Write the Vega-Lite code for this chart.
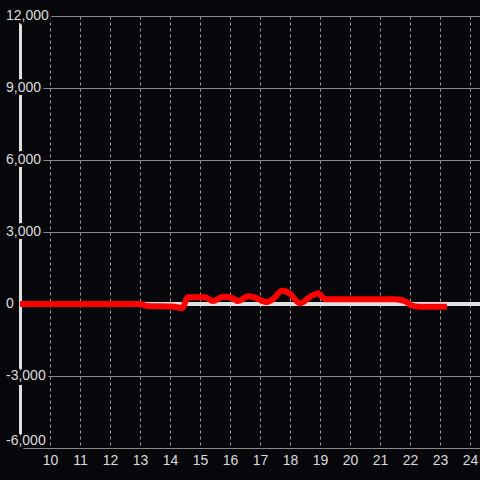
{
  "$schema": "https://vega.github.io/schema/vega-lite/v6.json",
  "width": 460,
  "height": 432,
  "autosize": {"type": "none"},
  "padding": {"left": 20, "top": 16, "right": 0, "bottom": 32},
  "background": "#07060a",
  "config": {
    "view": {"stroke": null},
    "axisX": {
      "title": null,
      "labelFont": "Liberation Sans", "labelFontSize": 14, "labelColor": "#dcdcdc",
      "domain": false, "ticks": false, "labelPadding": 5,
      "grid": true, "gridColor": "#9a9a9a", "gridDash": [3, 3], "gridWidth": 1,
      "labelFlush": false, "labelOverlap": false
    }
  },
  "datasets": {
    "series": [
      {"hour": 9.0, "value": 0},
      {"hour": 13.0, "value": 0},
      {"hour": 13.23, "value": -80},
      {"hour": 14.07, "value": -100},
      {"hour": 14.4, "value": -170},
      {"hour": 14.6, "value": 280},
      {"hour": 15.17, "value": 280},
      {"hour": 15.43, "value": 120},
      {"hour": 15.77, "value": 300},
      {"hour": 16.07, "value": 250},
      {"hour": 16.27, "value": 120},
      {"hour": 16.6, "value": 320},
      {"hour": 16.83, "value": 270},
      {"hour": 17.2, "value": 80},
      {"hour": 17.43, "value": 200},
      {"hour": 17.73, "value": 550},
      {"hour": 18.0, "value": 430},
      {"hour": 18.33, "value": 30},
      {"hour": 18.67, "value": 300},
      {"hour": 18.93, "value": 450},
      {"hour": 19.17, "value": 200},
      {"hour": 21.5, "value": 200},
      {"hour": 21.83, "value": 120},
      {"hour": 22.07, "value": -70},
      {"hour": 22.33, "value": -110},
      {"hour": 23.23, "value": -110}
    ],
    "yticks": [
      {"value": 12000, "label": "12,000"},
      {"value": 9000, "label": "9,000"},
      {"value": 6000, "label": "6,000"},
      {"value": 3000, "label": "3,000"},
      {"value": 0, "label": "0"},
      {"value": -3000, "label": "-3,000"},
      {"value": -6000, "label": "-6,000"}
    ]
  },
  "layer": [
    {
      "data": {"name": "series"},
      "mark": {"type": "rule", "color": "#e0e0e0", "strokeWidth": 3},
      "encoding": {
        "y": {"datum": 0, "type": "quantitative"}
      }
    },
    {
      "data": {"name": "series"},
      "mark": {"type": "line", "color": "#ff0000", "strokeWidth": 6, "interpolate": "monotone", "strokeJoin": "round"},
      "encoding": {
        "x": {
          "field": "hour", "type": "quantitative",
          "scale": {"domain": [9, 24.333], "nice": false, "zero": false},
          "axis": {"values": [10,11,12,13,14,15,16,17,18,19,20,21,22,23,24]}
        },
        "y": {
          "field": "value", "type": "quantitative",
          "scale": {"domain": [-6000, 12000], "nice": false},
          "axis": {
            "title": null,
            "values": [-6000,-4500,-3000,-1500,0,1500,3000,4500,6000,7500,9000,10500,12000],
            "labels": false,
            "domain": true, "domainColor": "#e0e0e0", "domainWidth": 3,
            "ticks": false,
            "grid": true, "gridColor": "#8a8a8a", "gridWidth": 1
          }
        }
      }
    },
    {
      "data": {"name": "yticks"},
      "transform": [{"filter": "datum.value > -6000"}],
      "layer": [
        {
          "mark": {"type": "text", "align": "left", "baseline": "middle", "dx": -14, "font": "Liberation Sans", "fontSize": 14, "stroke": "#07060a", "strokeWidth": 6, "strokeJoin": "round", "fill": "#07060a"},
          "encoding": {
            "x": {"datum": 9, "type": "quantitative", "axis": {"values": [10,11,12,13,14,15,16,17,18,19,20,21,22,23,24]}},
            "y": {"field": "value", "type": "quantitative"},
            "text": {"field": "label"}
          }
        },
        {
          "mark": {"type": "text", "align": "left", "baseline": "middle", "dx": -14, "font": "Liberation Sans", "fontSize": 14, "fill": "#dcdcdc"},
          "encoding": {
            "x": {"datum": 9, "type": "quantitative", "axis": {"values": [10,11,12,13,14,15,16,17,18,19,20,21,22,23,24]}},
            "y": {"field": "value", "type": "quantitative"},
            "text": {"field": "label"}
          }
        }
      ]
    },
    {
      "data": {"name": "yticks"},
      "transform": [{"filter": "datum.value === -6000"}],
      "layer": [
        {
          "mark": {"type": "text", "align": "left", "baseline": "bottom", "dx": -14, "font": "Liberation Sans", "fontSize": 14, "stroke": "#07060a", "strokeWidth": 6, "strokeJoin": "round", "fill": "#07060a"},
          "encoding": {
            "x": {"datum": 9, "type": "quantitative", "axis": {"values": [10,11,12,13,14,15,16,17,18,19,20,21,22,23,24]}},
            "y": {"field": "value", "type": "quantitative"},
            "text": {"field": "label"}
          }
        },
        {
          "mark": {"type": "text", "align": "left", "baseline": "bottom", "dx": -14, "font": "Liberation Sans", "fontSize": 14, "fill": "#dcdcdc"},
          "encoding": {
            "x": {"datum": 9, "type": "quantitative", "axis": {"values": [10,11,12,13,14,15,16,17,18,19,20,21,22,23,24]}},
            "y": {"field": "value", "type": "quantitative"},
            "text": {"field": "label"}
          }
        }
      ]
    }
  ]
}
